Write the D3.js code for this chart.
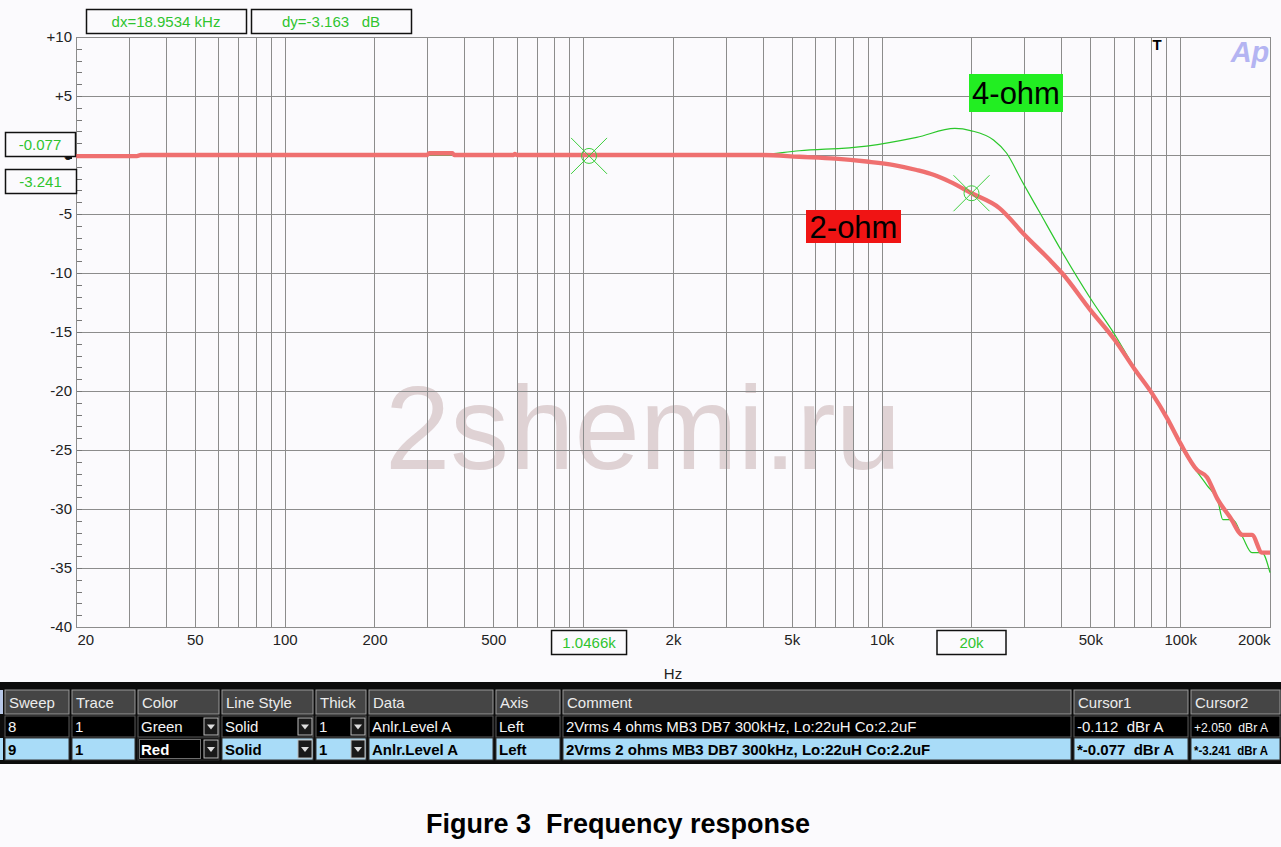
<!DOCTYPE html>
<html>
<head>
<meta charset="utf-8">
<script src="https://cdn.jsdelivr.net/npm/d3@7"></script>
<style>
  html, body { margin: 0; padding: 0; background: #fbfafd; }
  svg { display: block; font-family: "Liberation Sans", Arial, sans-serif; }
  text { white-space: pre; }
</style>
</head>
<body>
<svg id="chart" width="1281" height="847"></svg>
<script>
// ---------------- DATA ----------------
const xTickValues = [20, 50, 100, 200, 500, 2000, 5000, 10000, 50000, 100000, 200000];
const xTickLabels = ["20", "50", "100", "200", "500", "2k", "5k", "10k", "50k", "100k", "200k"];
const yTickValues = [10, 5, 0, -5, -10, -15, -20, -25, -30, -35, -40];
const yTickLabels = ["+10", "+5", "0", "-5", "-10", "-15", "-20", "-25", "-30", "-35", "-40"];

// 2-ohm trace (red)
const freq2ohm = [20, 32, 33, 300, 305, 365, 370, 585, 590, 600, 1000, 2000, 4000, 5300, 7000, 8900, 11000, 13100, 15000, 16900, 20000, 24800, 30200, 36600, 40200, 49900, 60500, 70600, 80500, 90400, 100000, 114000, 123000, 133000, 147000, 162000, 174000, 188000, 200000];
const db2ohm   = [-0.1, -0.1, 0.0, 0.0, 0.15, 0.15, 0.0, 0.0, 0.1, 0.0, 0.0, 0.0, 0.0, -0.15, -0.3, -0.55, -0.85, -1.27, -1.7, -2.26, -3.24, -4.5, -6.8, -8.9, -10.0, -13.1, -15.7, -18.2, -20.2, -22.3, -24.4, -26.7, -27.3, -29.1, -30.7, -32.2, -32.2, -33.7, -33.7];

// 4-ohm trace (green)
const freq4ohm = [20, 1000, 3680, 5300, 8900, 13100, 17600, 20000, 23700, 26200, 29500, 33900, 40200, 49900, 60500, 70600, 80500, 90400, 101000, 108000, 123000, 134000, 139000, 150000, 162000, 174000, 188000, 200000];
const db4ohm   = [0.0, 0.0, 0.0, 0.36, 0.76, 1.5, 2.25, 2.05, 1.27, 0.17, -2.2, -4.9, -8.2, -12.1, -15.25, -18.1, -20.2, -22.4, -24.8, -26.0, -28.0, -29.4, -30.9, -30.9, -32.4, -33.7, -33.7, -35.4];

// cursors
const cursorFreqs = [1046.6, 20000];
const cursorDb = [-0.077, -3.241];
const cursorFreqLabels = ["1.0466k", "20k"];
const cursorDbLabels = ["-0.077", "-3.241"];
const deltaLabels = ["dx=18.9534 kHz", "dy=-3.163   dB"];

// trace labels
const traceNames = ["4-ohm", "2-ohm"];

// table
const tableHeaders = ["Sweep", "Trace", "Color", "Line Style", "Thick", "Data", "Axis", "Comment", "Cursor1", "Cursor2"];
const tableRow8 = ["8", "1", "Green", "Solid", "1", "Anlr.Level A", "Left", "2Vrms 4 ohms MB3 DB7 300kHz, Lo:22uH Co:2.2uF", "-0.112  dBr A", "+2.050  dBr A"];
const tableRow9 = ["9", "1", "Red", "Solid", "1", "Anlr.Level A", "Left", "2Vrms 2 ohms MB3 DB7 300kHz, Lo:22uH Co:2.2uF", "*-0.077  dBr A", "*-3.241  dBr A"];

const caption = "Figure 3  Frequency response";
const watermark = "2shemi.ru";

// ---------------- LAYOUT ----------------
const svg = d3.select("#chart");
const L = 76, R = 1270, T = 37, B = 627;
const x = d3.scaleLog().domain([20, 200000]).range([L, R]);
const y = d3.scaleLinear().domain([-40, 10]).range([B, T]);
const gridColor = "#8c8c8c";
const textGreen = "#2fc42f";

// watermark (behind grid)
svg.append("text").attr("x", 385).attr("y", 469)
  .attr("font-size", 118).attr("fill", "#dfd2d4")
  .attr("font-family", "Liberation Sans, Arial, sans-serif")
  .attr("textLength", 516).attr("lengthAdjust", "spacingAndGlyphs")
  .text(watermark);

// vertical grid lines
const g = svg.append("g");
g.selectAll("line.vg").data(x.ticks()).enter().append("line")
  .attr("x1", d => Math.round(x(d)) + 0.5).attr("x2", d => Math.round(x(d)) + 0.5)
  .attr("y1", T).attr("y2", B)
  .attr("stroke", gridColor).attr("stroke-width", 1);
// horizontal grid lines
g.selectAll("line.hg").data(yTickValues).enter().append("line")
  .attr("x1", L).attr("x2", R)
  .attr("y1", d => Math.round(y(d)) + 0.5).attr("y2", d => Math.round(y(d)) + 0.5)
  .attr("stroke", gridColor).attr("stroke-width", 1);
// frame
svg.append("rect").attr("x", L + 0.5).attr("y", T + 0.5).attr("width", R - L).attr("height", B - T)
  .attr("fill", "none").attr("stroke", gridColor).attr("stroke-width", 1);
// minor ticks on left axis every 1 dB
g.selectAll("line.mt").data(d3.range(-40, 11)).enter().append("line")
  .attr("x1", L).attr("x2", L + 6)
  .attr("y1", d => Math.round(y(d)) + 0.5).attr("y2", d => Math.round(y(d)) + 0.5)
  .attr("stroke", "#777").attr("stroke-width", 1);

// y axis labels
const yAxis = d3.axisLeft(y).tickValues(yTickValues)
  .tickFormat((d, i) => yTickLabels[i]).tickSize(0).tickPadding(4);
const ya = svg.append("g").attr("transform", `translate(${L},0)`).call(yAxis);
ya.select(".domain").remove();
ya.selectAll("text").attr("font-size", 15).attr("fill", "#222")
  .attr("font-family", "Liberation Sans, Arial, sans-serif");

// x axis labels
const xAxis = d3.axisBottom(x).tickValues(xTickValues)
  .tickFormat((d, i) => xTickLabels[i]).tickSize(0).tickPadding(7);
const xa = svg.append("g").attr("transform", `translate(0,${B})`).call(xAxis);
xa.select(".domain").remove();
xa.selectAll("text").attr("font-size", 15).attr("fill", "#222")
  .attr("font-family", "Liberation Sans, Arial, sans-serif")
  .attr("text-anchor", (d, i) => i === 0 ? "start" : (i === xTickValues.length - 1 ? "end" : "middle"))
  .attr("dx", (d, i) => i === 0 ? 1 : 0);

svg.append("text").attr("x", 673).attr("y", 679).attr("text-anchor", "middle")
  .attr("font-size", 15).attr("fill", "#222").text("Hz");

// traces
const line = d3.line().x(d => x(d[0])).y(d => y(d[1])).curve(d3.curveMonotoneX);
svg.append("path").datum(freq4ohm.map((f, i) => [f, db4ohm[i]]))
  .attr("d", line).attr("fill", "none").attr("stroke", "#2bc72b").attr("stroke-width", 1.2);
svg.append("path").datum(freq2ohm.map((f, i) => [f, db2ohm[i]]))
  .attr("d", line).attr("fill", "none").attr("stroke", "#ef7070").attr("stroke-width", 4.3)
  .attr("stroke-linejoin", "round");

// cursor markers
cursorFreqs.forEach((f, i) => {
  const cx = x(f), cy = y(cursorDb[i]);
  const m = svg.append("g").attr("stroke", "#3fcf3f").attr("fill", "none").attr("stroke-width", 1);
  m.append("circle").attr("cx", cx).attr("cy", cy).attr("r", 7.5);
  m.append("line").attr("x1", cx - 18).attr("y1", cy - 18).attr("x2", cx + 18).attr("y2", cy + 18);
  m.append("line").attr("x1", cx - 18).attr("y1", cy + 18).attr("x2", cx + 18).attr("y2", cy - 18);
});

// trace labels
const traceLabelPos = [
  { lx: 969, ly: 74, w: 94, h: 38, fill: "#22ee22", v: traceNames[0] },
  { lx: 806, ly: 210, w: 95, h: 33, fill: "#f01414", v: traceNames[1] }
];
traceLabelPos.forEach(p => {
  svg.append("rect").attr("x", p.lx).attr("y", p.ly).attr("width", p.w).attr("height", p.h).attr("fill", p.fill);
  svg.append("text").attr("x", p.lx + p.w / 2).attr("y", p.ly + p.h / 2 + 11)
    .attr("text-anchor", "middle").attr("font-size", 31).attr("fill", "#000").text(p.v);
});

// header delta boxes
const deltaBoxes = [{ bx: 86, w: 160 }, { bx: 251, w: 160 }];
deltaBoxes.forEach((b, i) => {
  svg.append("rect").attr("x", b.bx + 0.5).attr("y", 9.5).attr("width", b.w).attr("height", 24)
    .attr("fill", "#fbfafd").attr("stroke", "#111").attr("stroke-width", 1.5);
  svg.append("text").attr("x", b.bx + b.w / 2).attr("y", 27).attr("text-anchor", "middle")
    .attr("font-size", 15).attr("fill", textGreen).text(deltaLabels[i]);
});

// left cursor value boxes
const leftBoxes = [{ by: 132, w: 70 }, { by: 169, w: 71 }];
leftBoxes.forEach((b, i) => {
  svg.append("rect").attr("x", 5.5).attr("y", b.by + 0.5).attr("width", b.w).attr("height", 24)
    .attr("fill", "#fbfafd").attr("stroke", "#111").attr("stroke-width", 1.5);
  svg.append("text").attr("x", 5 + b.w / 2).attr("y", b.by + 18).attr("text-anchor", "middle")
    .attr("font-size", 15).attr("fill", textGreen).text(cursorDbLabels[i]);
});
svg.append("rect").attr("x", 66).attr("y", 157).attr("width", 6).attr("height", 2).attr("fill", "#111");

// bottom cursor frequency boxes
cursorFreqs.forEach((f, i) => {
  const w = i === 0 ? 75 : 69;
  const bx = x(f) - w / 2;
  svg.append("rect").attr("x", bx).attr("y", 630.5).attr("width", w).attr("height", 24)
    .attr("fill", "#fbfafd").attr("stroke", "#111").attr("stroke-width", 1.5);
  svg.append("text").attr("x", x(f)).attr("y", 648).attr("text-anchor", "middle")
    .attr("font-size", 15).attr("fill", textGreen).text(cursorFreqLabels[i]);
});

// T marker and Ap logo
svg.append("text").attr("x", 1157).attr("y", 50).attr("text-anchor", "middle")
  .attr("font-size", 15).attr("font-weight", "bold").attr("fill", "#000").text("T");
svg.append("text").attr("x", 1250).attr("y", 62).attr("text-anchor", "middle")
  .attr("font-size", 29).attr("font-weight", "bold").attr("font-style", "italic")
  .attr("fill", "#b4b4f2").text("Ap");

// ---------------- TABLE ----------------
const tbl = svg.append("g");
tbl.append("rect").attr("x", 0).attr("y", 682).attr("width", 1281).attr("height", 82).attr("fill", "#0c0c0c");
const colX = [5, 72, 138, 222, 316, 369, 496, 563, 1074, 1191, 1283];
const rowsY = [{ y: 690, h: 24 }, { y: 716, h: 21 }, { y: 738, h: 22 }];
// left selector strip
tbl.append("rect").attr("x", 0).attr("y", 690).attr("width", 3).attr("height", 24).attr("fill", "#b8c8e8");
tbl.append("rect").attr("x", 0).attr("y", 738).attr("width", 3).attr("height", 22).attr("fill", "#a9dcf8");

tableHeaders.forEach((h, c) => {
  const cx = colX[c], cw = colX[c + 1] - colX[c] - 3;
  tbl.append("rect").attr("x", cx).attr("y", 690).attr("width", cw).attr("height", 24)
    .attr("fill", "#454545").attr("stroke", "#9a9a9a").attr("stroke-width", 1);
  tbl.append("text").attr("x", cx + 4).attr("y", 708).attr("font-size", 15).attr("fill", "#ececec").text(h);
});
[tableRow8, tableRow9].forEach((row, r) => {
  const ry = rowsY[r + 1];
  row.forEach((v, c) => {
    const cx = colX[c], cw = colX[c + 1] - colX[c] - 3;
    const sel = r === 1;
    let bg = sel ? "#a9dcf8" : "#000";
    let fg = sel ? "#000" : "#f4f4f4";
    if (sel && c === 2) { bg = "#000"; fg = "#fff"; }
    tbl.append("rect").attr("x", cx).attr("y", ry.y).attr("width", cw).attr("height", ry.h)
      .attr("fill", bg).attr("stroke", sel ? "#333" : "#5a5a5a").attr("stroke-width", 1);
    if (sel && c === 2) {
      tbl.append("rect").attr("x", cx + 1.5).attr("y", ry.y + 1.5).attr("width", cw - 20).attr("height", ry.h - 3)
        .attr("fill", "none").attr("stroke", "#ddd").attr("stroke-dasharray", "1,1");
    }
    const t = tbl.append("text").attr("x", cx + 3).attr("y", ry.y + ry.h - 5)
      .attr("font-size", 15).attr("font-weight", sel ? "bold" : "normal").attr("fill", fg).text(v);
    if (c === tableHeaders.length - 1) {
      t.attr("font-size", 13).attr("textLength", 1268 - (cx + 3)).attr("lengthAdjust", "spacingAndGlyphs");
    }
    if (c >= 2 && c <= 4) {
      const bx = cx + cw - 15;
      tbl.append("rect").attr("x", bx).attr("y", ry.y + 2).attr("width", 14).attr("height", ry.h - 4)
        .attr("fill", "#1a1a1a").attr("stroke", "#bbb").attr("stroke-width", 1);
      tbl.append("path").attr("d", `M${bx + 3},${ry.y + ry.h / 2 - 2} h8 l-4,5 z`).attr("fill", "#ddd");
    }
  });
});

// caption
svg.append("text").attr("x", 618).attr("y", 833).attr("text-anchor", "middle")
  .attr("font-size", 27).attr("font-weight", "bold").attr("fill", "#000")
  .attr("font-family", "Liberation Sans, Arial, sans-serif").text(caption);
</script>
</body>
</html>
